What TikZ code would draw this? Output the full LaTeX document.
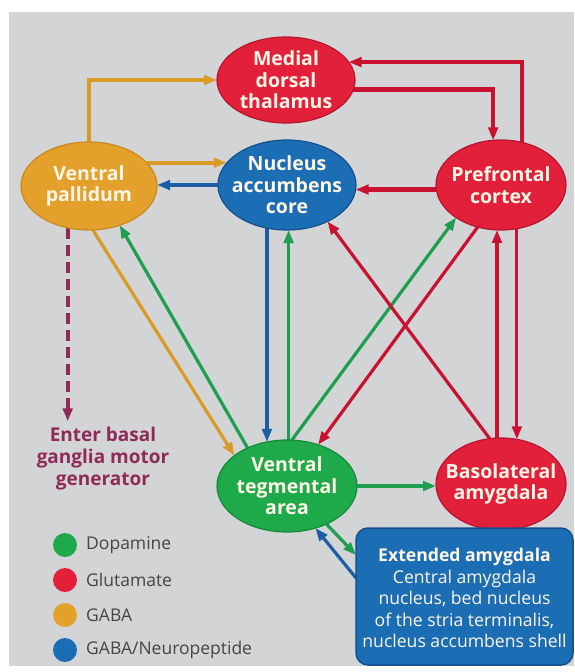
\documentclass[tikz,border=0pt]{standalone}
\usepackage{fontspec}
\setmainfont{Open Sans}
\usetikzlibrary{shapes.geometric,arrows.meta,calc}
\pgfdeclarelayer{panel}
\pgfdeclarelayer{links}
\pgfsetlayers{panel,links,main}
\definecolor{panelgrey}{HTML}{D3D4D6}
\definecolor{redfill}{HTML}{E2203A}
\definecolor{redrim}{HTML}{B8142F}
\definecolor{redline}{HTML}{C8122F}
\definecolor{greenfill}{HTML}{1EAA4A}
\definecolor{greenrim}{HTML}{168A3A}
\definecolor{greenline}{HTML}{1E9E4E}
\definecolor{bluefill}{HTML}{1B6DB4}
\definecolor{bluerim}{HTML}{15508C}
\definecolor{blueline}{HTML}{1B5EA6}
\definecolor{orangefill}{HTML}{E3A02A}
\definecolor{orangerim}{HTML}{C98A1E}
\definecolor{orangeline}{HTML}{D99A26}
\definecolor{maroon}{HTML}{8E2B57}
\definecolor{cream}{HTML}{FFF6E8}
\definecolor{legendtext}{HTML}{454548}
\begin{document}
\begin{tikzpicture}[x=1pt,y=-1pt,
  ell/.style={ellipse, inner sep=0pt, outer sep=0pt, line width=1.2pt},
  lbl/.style={align=center, text=cream, inner sep=0pt, font=\bfseries\fontsize{19.5}{21.5}\selectfont},
  arr/.style={-{Triangle[length=13pt,width=9.5pt]}},
  lwa/.style={line width=4.3pt},
  lwb/.style={line width=3.2pt},
  gaba/.style={draw=orangeline},
  glu/.style={draw=redline},
  dopa/.style={draw=greenline},
  pept/.style={draw=blueline},
  legdot/.style={circle, inner sep=0pt, minimum size=24pt},
  legtxt/.style={anchor=west, text=legendtext, inner sep=0pt, font=\fontsize{17.5}{20}\selectfont}
]
\useasboundingbox (0,0) rectangle (574,672);
\begin{pgfonlayer}{panel}
  \fill[white] (0,0) rectangle (574,672);
  \fill[panelgrey] (9,12) rectangle (574,666);
\end{pgfonlayer}

% ellipses
\node[ell, fill=redfill, draw=redrim, minimum width=138pt, minimum height=86pt] (thal) at (286,80) {};
\node[ell, fill=orangefill, draw=orangerim, minimum width=136pt, minimum height=88pt] (vp) at (89,186) {};
\node[ell, fill=bluefill, draw=bluerim, minimum width=138pt, minimum height=90pt] (nac) at (287,185) {};
\node[ell, fill=redfill, draw=redrim, minimum width=130pt, minimum height=90pt] (pfc) at (501,185) {};
\node[ell, fill=greenfill, draw=greenrim, minimum width=140pt, minimum height=92pt] (vta) at (287,486) {};
\node[ell, fill=redfill, draw=redrim, minimum width=130pt, minimum height=92pt] (bla) at (501,484) {};
\node[rectangle, rounded corners=12pt, fill=bluefill, draw=bluerim, line width=1.5pt,
      minimum width=217pt, minimum height=137pt, inner sep=0pt, outer sep=0pt] (ext) at (464.5,596.5) {};

% labels
\node[lbl] (thal-l) at (thal) {Medial\\dorsal\\thalamus};
\node[lbl] (vp-l) at (vp) {Ventral\\pallidum};
\node[lbl] (nac-l) at (nac) {Nucleus\\accumbens\\core};
\node[lbl] (pfc-l) at (pfc) {Prefrontal\\cortex};
\node[lbl] (vta-l) at (vta) {Ventral\\tegmental\\area};
\node[lbl] (bla-l) at (bla) {Basolateral\\amygdala};
\node[align=center, text=cream, inner sep=0pt, font=\fontsize{17.6}{21.5}\selectfont] (ext-l) at (464.5,598)
  {\textbf{Extended amygdala}\\Central amygdala\\nucleus, bed nucleus\\of the stria terminalis,\\nucleus accumbens shell};

\node[align=center, text=maroon, inner sep=0pt, font=\bfseries\fontsize{19}{22}\selectfont] (enter) at (103,459)
  {Enter basal\\ganglia motor\\generator};

% legend
\node[legdot, fill=greenfill] (lg1) at (65,545) {};
\node[legdot, fill=redfill] (lg2) at (65,580) {};
\node[legdot, fill=orangefill] (lg3) at (65,615) {};
\node[legdot, fill=bluefill] (lg4) at (65,650) {};
\node[legtxt] (lt1) at (86,545) {Dopamine};
\node[legtxt] (lt2) at (86,580) {Glutamate};
\node[legtxt] (lt3) at (86,615) {GABA};
\node[legtxt] (lt4) at (86,650) {GABA/Neuropeptide};

\begin{pgfonlayer}{links}
  % GABA
  \draw[gaba, lwa, arr] (vp.north) |- (thal.west);
  \draw[gaba, lwa, arr] (vp.22) -- (vp.22 -| nac.160);
  \draw[gaba, lwb, arr] (vp.-85) -- (vta.150);
  % GABA/Neuropeptide
  \draw[pept, lwa, arr] (nac.west) -- (nac.west -| vp.east);
  \draw[pept, lwb, arr] (nac.245) -- (nac.245 |- vta.114);
  \draw[pept, lwb, arr] ([yshift=-50pt]ext.north west) -- (vta.-56);
  % Dopamine
  \draw[dopa, lwb, arr] (vta.136) -- (vp.-52);
  \draw[dopa, lwb, arr] (vta.88) -- (vta.88 |- nac.south);
  \draw[dopa, lwb, arr] (vta.84) -- (pfc.216);
  \draw[dopa, lwb, arr] (vta.east) -- (vta.east -| bla.west);
  \draw[dopa, lwb, arr] (vta.-44) -- ([yshift=-27pt]ext.north west);
  % Glutamate
  \draw[glu, lwa, arr] (pfc.64) |- (thal.16);
  \draw[glu, lwa, arr] (thal.-8) -| (pfc.100);
  \draw[glu, lwa, arr] (pfc.184) -- (pfc.184 -| nac.-4);
  \draw[glu, lwb, arr] (pfc.241) -- (vta.53);
  \draw[glu, lwb, arr] (bla.104) -- (nac.-42);
  \draw[glu, lwa, arr] (bla.95) -- (bla.95 |- pfc.265);
  \draw[glu, lwb, arr] (pfc.-70) -- (pfc.-70 |- bla.70);
  % motor output
  \draw[draw=maroon, line width=3.8pt, dash pattern=on 11pt off 6pt, arr, shorten >=6pt] (vp.243) -- (vp.243 |- enter.north);
\end{pgfonlayer}
\end{tikzpicture}
\end{document}
